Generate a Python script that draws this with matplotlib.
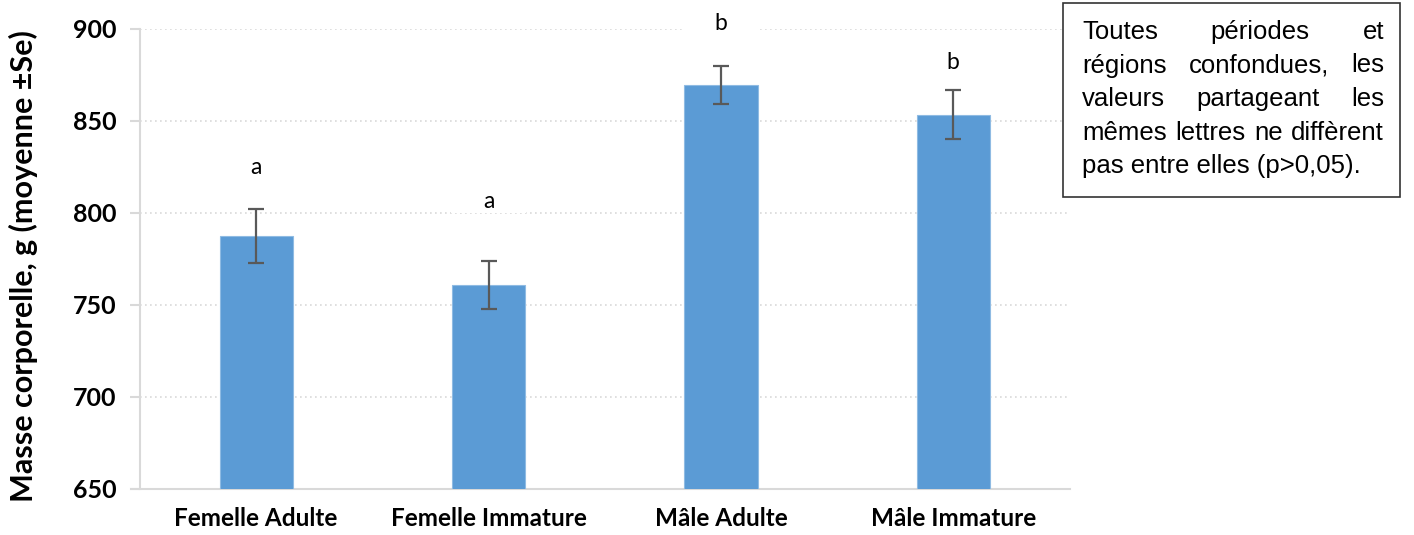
import matplotlib
matplotlib.use("Agg")
import matplotlib.pyplot as plt
from matplotlib.patches import Rectangle
import numpy as np

# data
categories = ["Femelle Adulte", "Femelle Immature", "Mâle Adulte", "Mâle Immature"]
means = [787.5, 761.0, 869.5, 853.5]
se = [14.5, 13.0, 10.5, 13.5]
letters = ["a", "a", "b", "b"]
letter_y = [825, 806, 903, 882]
yticks = [650, 700, 750, 800, 850, 900]

note_lines = [
    ("Toutes périodes et", True),
    ("régions confondues, les", True),
    ("valeurs partageant les", True),
    ("mêmes lettres ne diffèrent", True),
    ("pas entre elles (p>0,05).", False),
]

W, H = 1414, 535
fig = plt.figure(figsize=(W / 100, H / 100), dpi=100)
ax = fig.add_axes([140 / W, 1 - 489 / H, (1069.5 - 140) / W, (489 - 29) / H])

x = np.arange(len(categories))
grid_c = "#d9d9d9"

ax.bar(x, means, width=0.315, color="#5b9bd5", edgecolor="#8fbbe3",
       linewidth=0.8, zorder=3)
ax.errorbar(x, means, yerr=se, fmt="none", ecolor="#595959", elinewidth=1.6,
            capsize=6, capthick=1.6, zorder=4)

# significance letters, with a white background like the original labels
for i, (lab, ly) in enumerate(zip(letters, letter_y)):
    ax.add_patch(Rectangle((i - 0.16, ly - 6), 0.32, 12, facecolor="white",
                           edgecolor="none", zorder=2))
    ax.text(i, ly, lab, ha="center", va="center", fontsize=16.5,
            family="Lato", color="black", zorder=5)

ax.set_xlim(-0.5, len(categories) - 0.5)
ax.set_ylim(650, 900)
ax.set_yticks(yticks)
ax.set_xticks(x)
ax.set_xticklabels(categories, fontsize=17.5, fontweight="bold", family="Lato")
for t in ax.get_yticklabels():
    t.set_fontsize(18)
    t.set_fontweight("bold")
    t.set_family("Lato")

ax.yaxis.grid(True, linestyle=(0, (1, 2)), color=grid_c, linewidth=1.2, zorder=0)
ax.set_axisbelow(True)
for s in ["top", "right"]:
    ax.spines[s].set_visible(False)
for s in ["left", "bottom"]:
    ax.spines[s].set_color(grid_c)
    ax.spines[s].set_linewidth(1.5)
ax.spines["bottom"].set_bounds(-0.54, len(categories) - 0.5)
ax.tick_params(axis="y", length=7, width=1.5, color=grid_c, pad=10)
ax.tick_params(axis="x", length=0, pad=13)

fig.text(23 / W, 1 - 266 / H, "Masse corporelle, g (moyenne ±Se)", rotation=90,
         ha="center", va="center", fontsize=22, fontweight="bold", family="Lato")

# note box with justified text
box_l, box_r, box_t, box_b = 1063, 1400, 3, 197
fig.patches.append(Rectangle((box_l / W, 1 - box_b / H), (box_r - box_l) / W,
                             (box_b - box_t) / H, transform=fig.transFigure,
                             facecolor="white", edgecolor="#333333", linewidth=1.2))

fig.canvas.draw()
renderer = fig.canvas.get_renderer()
tl, tr = 1082, 1384
line_h = 33.5
fs_note = 18.5
for k, (line, justify) in enumerate(note_lines):
    yb = 1 - (39 + k * line_h) / H
    words = line.split(" ")
    if not justify:
        fig.text(tl / W, yb, line, ha="left", va="baseline", fontsize=fs_note,
                 family="Liberation Sans")
        continue
    objs = [fig.text(0, yb, w_, ha="left", va="baseline", fontsize=fs_note,
                     family="Liberation Sans") for w_ in words]
    widths = [o.get_window_extent(renderer).width for o in objs]
    gap = (tr - tl - sum(widths)) / (len(words) - 1)
    pos = tl
    for o, wd in zip(objs, widths):
        o.set_x(pos / W)
        pos += wd + gap

fig.savefig("out.png", dpi=100)
